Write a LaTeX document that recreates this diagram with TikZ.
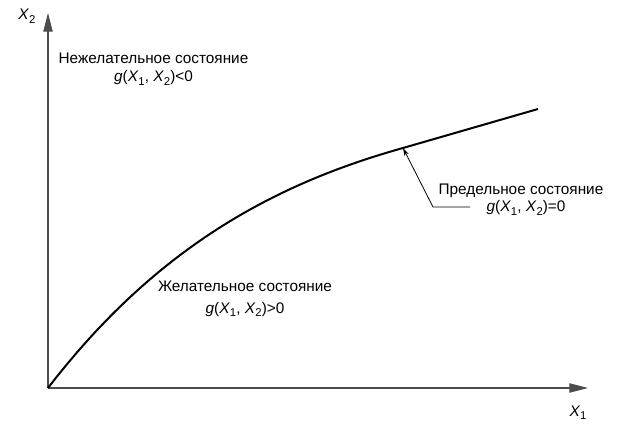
\documentclass[tikz,border=0pt]{standalone}
\usepackage{fontspec}
\setmainfont{Liberation Sans}
\usetikzlibrary{arrows.meta}
\newcommand\mysub[1]{\raisebox{-0.4ex}{\fontsize{8.5pt}{9pt}\selectfont #1}}
\newcommand\myX[1]{\textit{X}\mysub{#1}}
\begin{document}
\begin{tikzpicture}[x=0.75pt,y=-0.75pt,
  axis/.style={draw=black!70,line width=0.8pt,-{Triangle[length=14pt,width=7pt]}},
  curveline/.style={draw=black,line width=1.5pt,line join=round},
  leader/.style={draw=black,line width=0.6pt,-{Stealth[length=6pt,width=3.5pt]}},
  lbl/.style={font=\fontsize{11.5pt}{14pt}\selectfont,inner sep=0pt,anchor=base,align=center}]
\useasboundingbox (0,0) rectangle (623,427);
\coordinate (O) at (48,388);
\coordinate (ytip) at (48,13);
\coordinate (xtip) at (588,388);
\coordinate (lp) at (403,148);
\coordinate (cend) at (538,109);
\draw[axis] (O) -- (ytip);
\draw[axis] (O) -- (xtip);
\draw[curveline] (O) .. controls (158,245) and (278,183) .. (lp) -- (cend);
\coordinate (lc) at (433,207);
\coordinate (le) at (470,207);
\draw[leader] (le) -- (lc) -- (lp);
\node[lbl] (ax2) at (27,20) {\myX{2}};
\node[lbl] (ax1) at (578,416) {\myX{1}};
\node[lbl] (t1) at (153.5,64) {Нежелательное состояние};
\node[lbl] (f1) at (153.5,82) {\textit{g}(\myX{1}, \myX{2})<0};
\node[lbl] (t2) at (521,195) {Предельное состояние};
\node[lbl] (f2) at (526,212) {\textit{g}(\myX{1}, \myX{2})=0};
\node[lbl] (t3) at (245,291) {Желательное состояние};
\node[lbl] (f3) at (245,313) {\textit{g}(\myX{1}, \myX{2})>0};
\end{tikzpicture}
\end{document}
